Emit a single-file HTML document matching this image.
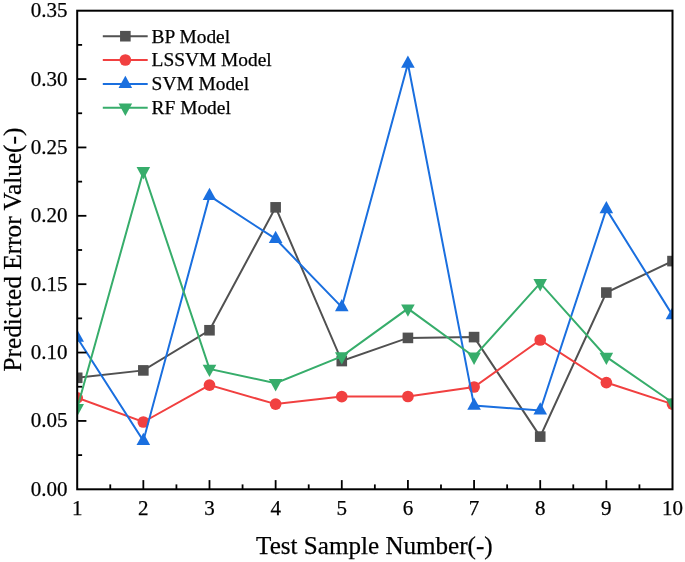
<!DOCTYPE html>
<html><head><meta charset="utf-8"><style>
html,body{margin:0;padding:0;background:#fff;width:685px;height:562px;overflow:hidden}
svg{display:block}
#w{will-change:transform}
text{font-family:"Liberation Serif",serif;fill:#000;stroke:#000;stroke-width:0.25px}
.t{font-size:21px}
.l{font-size:19.4px}
.a{font-size:25.3px}
.ax{font-size:25.1px}
</style></head><body>
<div id="w"><svg width="685" height="562" viewBox="0 0 685 562">
<defs><clipPath id="c"><rect x="77.2" y="10.7" width="595.3" height="478.6"/></clipPath></defs>
<g clip-path="url(#c)">
<polyline points="77.20,377.80 143.34,370.40 209.49,330.25 275.63,207.35 341.78,361.05 407.92,337.90 474.07,337.10 540.21,436.60 606.36,292.55 672.50,261.10" fill="none" stroke="#515151" stroke-width="2.0" stroke-linejoin="miter" stroke-miterlimit="10"/>
<rect x="71.90" y="372.50" width="10.6" height="10.6" fill="#515151"/>
<rect x="138.04" y="365.10" width="10.6" height="10.6" fill="#515151"/>
<rect x="204.19" y="324.95" width="10.6" height="10.6" fill="#515151"/>
<rect x="270.33" y="202.05" width="10.6" height="10.6" fill="#515151"/>
<rect x="336.48" y="355.75" width="10.6" height="10.6" fill="#515151"/>
<rect x="402.62" y="332.60" width="10.6" height="10.6" fill="#515151"/>
<rect x="468.77" y="331.80" width="10.6" height="10.6" fill="#515151"/>
<rect x="534.91" y="431.30" width="10.6" height="10.6" fill="#515151"/>
<rect x="601.06" y="287.25" width="10.6" height="10.6" fill="#515151"/>
<rect x="667.20" y="255.80" width="10.6" height="10.6" fill="#515151"/>
<polyline points="77.20,397.80 143.34,422.00 209.49,385.10 275.63,404.10 341.78,396.60 407.92,396.50 474.07,387.00 540.21,340.00 606.36,382.55 672.50,404.10" fill="none" stroke="#F14040" stroke-width="2.0" stroke-linejoin="miter" stroke-miterlimit="10"/>
<circle cx="77.20" cy="397.80" r="5.85" fill="#F14040"/>
<circle cx="143.34" cy="422.00" r="5.85" fill="#F14040"/>
<circle cx="209.49" cy="385.10" r="5.85" fill="#F14040"/>
<circle cx="275.63" cy="404.10" r="5.85" fill="#F14040"/>
<circle cx="341.78" cy="396.60" r="5.85" fill="#F14040"/>
<circle cx="407.92" cy="396.50" r="5.85" fill="#F14040"/>
<circle cx="474.07" cy="387.00" r="5.85" fill="#F14040"/>
<circle cx="540.21" cy="340.00" r="5.85" fill="#F14040"/>
<circle cx="606.36" cy="382.55" r="5.85" fill="#F14040"/>
<circle cx="672.50" cy="404.10" r="5.85" fill="#F14040"/>
<polyline points="77.20,337.70 143.34,440.90 209.49,195.90 275.63,238.90 341.78,307.10 407.92,63.70 474.07,405.60 540.21,410.50 606.36,209.10 672.50,315.20" fill="none" stroke="#1A6FDF" stroke-width="2.0" stroke-linejoin="miter" stroke-miterlimit="10"/>
<path d="M77.20,329.50 L84.00,341.80 L70.40,341.80Z" fill="#1A6FDF"/>
<path d="M143.34,432.70 L150.14,445.00 L136.54,445.00Z" fill="#1A6FDF"/>
<path d="M209.49,187.70 L216.29,200.00 L202.69,200.00Z" fill="#1A6FDF"/>
<path d="M275.63,230.70 L282.43,243.00 L268.83,243.00Z" fill="#1A6FDF"/>
<path d="M341.78,298.90 L348.58,311.20 L334.98,311.20Z" fill="#1A6FDF"/>
<path d="M407.92,55.50 L414.72,67.80 L401.12,67.80Z" fill="#1A6FDF"/>
<path d="M474.07,397.40 L480.87,409.70 L467.27,409.70Z" fill="#1A6FDF"/>
<path d="M540.21,402.30 L547.01,414.60 L533.41,414.60Z" fill="#1A6FDF"/>
<path d="M606.36,200.90 L613.16,213.20 L599.56,213.20Z" fill="#1A6FDF"/>
<path d="M672.50,307.00 L679.30,319.30 L665.70,319.30Z" fill="#1A6FDF"/>
<polyline points="77.20,408.20 143.34,171.20 209.49,368.90 275.63,383.20 341.78,356.40 407.92,308.60 474.07,356.70 540.21,283.20 606.36,356.90 672.50,402.50" fill="none" stroke="#37AD6B" stroke-width="2.0" stroke-linejoin="miter" stroke-miterlimit="10"/>
<path d="M77.20,416.40 L84.00,404.10 L70.40,404.10Z" fill="#37AD6B"/>
<path d="M143.34,179.40 L150.14,167.10 L136.54,167.10Z" fill="#37AD6B"/>
<path d="M209.49,377.10 L216.29,364.80 L202.69,364.80Z" fill="#37AD6B"/>
<path d="M275.63,391.40 L282.43,379.10 L268.83,379.10Z" fill="#37AD6B"/>
<path d="M341.78,364.60 L348.58,352.30 L334.98,352.30Z" fill="#37AD6B"/>
<path d="M407.92,316.80 L414.72,304.50 L401.12,304.50Z" fill="#37AD6B"/>
<path d="M474.07,364.90 L480.87,352.60 L467.27,352.60Z" fill="#37AD6B"/>
<path d="M540.21,291.40 L547.01,279.10 L533.41,279.10Z" fill="#37AD6B"/>
<path d="M606.36,365.10 L613.16,352.80 L599.56,352.80Z" fill="#37AD6B"/>
<path d="M672.50,410.70 L679.30,398.40 L665.70,398.40Z" fill="#37AD6B"/>
</g>
<line x1="77.2" x2="86.4" y1="420.93" y2="420.93" stroke="#000" stroke-width="1.8"/>
<line x1="77.2" x2="86.4" y1="352.56" y2="352.56" stroke="#000" stroke-width="1.8"/>
<line x1="77.2" x2="86.4" y1="284.19" y2="284.19" stroke="#000" stroke-width="1.8"/>
<line x1="77.2" x2="86.4" y1="215.81" y2="215.81" stroke="#000" stroke-width="1.8"/>
<line x1="77.2" x2="86.4" y1="147.44" y2="147.44" stroke="#000" stroke-width="1.8"/>
<line x1="77.2" x2="86.4" y1="79.07" y2="79.07" stroke="#000" stroke-width="1.8"/>
<line x1="77.2" x2="82.10000000000001" y1="455.11" y2="455.11" stroke="#000" stroke-width="1.8"/>
<line x1="77.2" x2="82.10000000000001" y1="386.74" y2="386.74" stroke="#000" stroke-width="1.8"/>
<line x1="77.2" x2="82.10000000000001" y1="318.37" y2="318.37" stroke="#000" stroke-width="1.8"/>
<line x1="77.2" x2="82.10000000000001" y1="250.00" y2="250.00" stroke="#000" stroke-width="1.8"/>
<line x1="77.2" x2="82.10000000000001" y1="181.63" y2="181.63" stroke="#000" stroke-width="1.8"/>
<line x1="77.2" x2="82.10000000000001" y1="113.26" y2="113.26" stroke="#000" stroke-width="1.8"/>
<line x1="77.2" x2="82.10000000000001" y1="44.89" y2="44.89" stroke="#000" stroke-width="1.8"/>
<line x1="143.34" x2="143.34" y1="489.3" y2="480.1" stroke="#000" stroke-width="1.8"/>
<line x1="209.49" x2="209.49" y1="489.3" y2="480.1" stroke="#000" stroke-width="1.8"/>
<line x1="275.63" x2="275.63" y1="489.3" y2="480.1" stroke="#000" stroke-width="1.8"/>
<line x1="341.78" x2="341.78" y1="489.3" y2="480.1" stroke="#000" stroke-width="1.8"/>
<line x1="407.92" x2="407.92" y1="489.3" y2="480.1" stroke="#000" stroke-width="1.8"/>
<line x1="474.07" x2="474.07" y1="489.3" y2="480.1" stroke="#000" stroke-width="1.8"/>
<line x1="540.21" x2="540.21" y1="489.3" y2="480.1" stroke="#000" stroke-width="1.8"/>
<line x1="606.36" x2="606.36" y1="489.3" y2="480.1" stroke="#000" stroke-width="1.8"/>
<line x1="110.27" x2="110.27" y1="489.3" y2="484.40000000000003" stroke="#000" stroke-width="1.8"/>
<line x1="176.42" x2="176.42" y1="489.3" y2="484.40000000000003" stroke="#000" stroke-width="1.8"/>
<line x1="242.56" x2="242.56" y1="489.3" y2="484.40000000000003" stroke="#000" stroke-width="1.8"/>
<line x1="308.71" x2="308.71" y1="489.3" y2="484.40000000000003" stroke="#000" stroke-width="1.8"/>
<line x1="374.85" x2="374.85" y1="489.3" y2="484.40000000000003" stroke="#000" stroke-width="1.8"/>
<line x1="440.99" x2="440.99" y1="489.3" y2="484.40000000000003" stroke="#000" stroke-width="1.8"/>
<line x1="507.14" x2="507.14" y1="489.3" y2="484.40000000000003" stroke="#000" stroke-width="1.8"/>
<line x1="573.28" x2="573.28" y1="489.3" y2="484.40000000000003" stroke="#000" stroke-width="1.8"/>
<line x1="639.43" x2="639.43" y1="489.3" y2="484.40000000000003" stroke="#000" stroke-width="1.8"/>
<rect x="77.2" y="10.7" width="595.3" height="478.6" fill="none" stroke="#000" stroke-width="2"/>
<text x="67.6" y="495.80" text-anchor="end" class="t">0.00</text>
<text x="67.6" y="427.43" text-anchor="end" class="t">0.05</text>
<text x="67.6" y="359.06" text-anchor="end" class="t">0.10</text>
<text x="67.6" y="290.69" text-anchor="end" class="t">0.15</text>
<text x="67.6" y="222.31" text-anchor="end" class="t">0.20</text>
<text x="67.6" y="153.94" text-anchor="end" class="t">0.25</text>
<text x="67.6" y="85.57" text-anchor="end" class="t">0.30</text>
<text x="67.6" y="17.20" text-anchor="end" class="t">0.35</text>
<text x="77.20" y="515.1" text-anchor="middle" class="t">1</text>
<text x="143.34" y="515.1" text-anchor="middle" class="t">2</text>
<text x="209.49" y="515.1" text-anchor="middle" class="t">3</text>
<text x="275.63" y="515.1" text-anchor="middle" class="t">4</text>
<text x="341.78" y="515.1" text-anchor="middle" class="t">5</text>
<text x="407.92" y="515.1" text-anchor="middle" class="t">6</text>
<text x="474.07" y="515.1" text-anchor="middle" class="t">7</text>
<text x="540.21" y="515.1" text-anchor="middle" class="t">8</text>
<text x="606.36" y="515.1" text-anchor="middle" class="t">9</text>
<text x="672.50" y="515.1" text-anchor="middle" class="t">10</text>
<line x1="102.8" x2="147.7" y1="36.2" y2="36.2" stroke="#515151" stroke-width="2.0"/>
<rect x="120.05" y="30.90" width="10.6" height="10.6" fill="#515151"/>
<text x="151.6" y="42.60" class="l">BP Model</text>
<line x1="102.8" x2="147.7" y1="60.0" y2="60.0" stroke="#F14040" stroke-width="2.0"/>
<circle cx="125.35" cy="60.00" r="5.85" fill="#F14040"/>
<text x="151.6" y="66.40" class="l">LSSVM Model</text>
<line x1="102.8" x2="147.7" y1="83.9" y2="83.9" stroke="#1A6FDF" stroke-width="2.0"/>
<path d="M125.35,75.70 L132.15,88.00 L118.55,88.00Z" fill="#1A6FDF"/>
<text x="151.6" y="90.30" class="l">SVM Model</text>
<line x1="102.8" x2="147.7" y1="107.7" y2="107.7" stroke="#37AD6B" stroke-width="2.0"/>
<path d="M125.35,115.90 L132.15,103.60 L118.55,103.60Z" fill="#37AD6B"/>
<text x="151.6" y="114.10" class="l">RF Model</text>
<text x="374.4" y="554.3" text-anchor="middle" class="a ax">Test Sample Number(-)</text>
<text transform="translate(21,249.6) rotate(-90)" text-anchor="middle" class="a">Predicted Error Value(-)</text>
</svg></div>
</body></html>
